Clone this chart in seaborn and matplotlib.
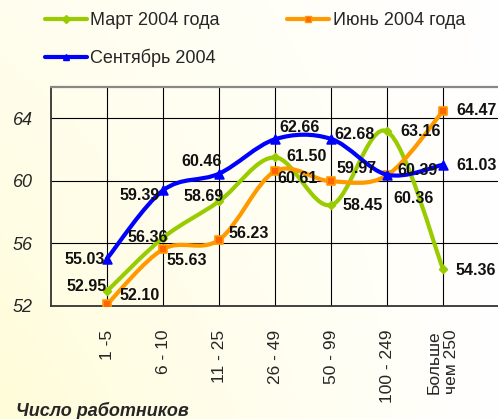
import numpy as np
import pandas as pd
import matplotlib
matplotlib.use("Agg")
import matplotlib.pyplot as plt
from matplotlib.path import Path
from matplotlib.patches import PathPatch
from matplotlib.lines import Line2D
import seaborn as sns

categories = ["1 -5", "6 - 10", "11 - 25", "26 - 49", "50 - 99", "100 - 249", "Больше\nчем 250"]
march = [52.95, 56.36, 58.69, 61.50, 58.45, 63.16, 54.36]
june = [52.10, 55.63, 56.23, 60.61, 59.97, 60.36, 64.47]
sept = [55.03, 59.39, 60.46, 62.66, 62.68, 60.39, 61.03]
series_names = ["Март 2004 года", "Июнь 2004 года", "Сентябрь 2004"]
yticks = [52, 56, 60, 64]

# label offsets in pixels (dx, dy), one list per series
off_march = [(-20, 5), (-15, 0), (-15, 5), (32, 1), (32, 0), (34, 0), (33, -1)]
off_june = [(33, 9), (24, -11), (30, 6), (23, -7), (25, 13), (26, -23), (33, 0)]
off_sept = [(-22, -1), (-23, -5), (-17, 12), (25, 12), (23, 4), (30, 4), (33, -1)]

sns.set_style("white")
plt.rcParams["font.family"] = ["Liberation Sans", "DejaVu Sans"]

x = np.arange(len(categories))
df = pd.DataFrame({
    "pos": np.tile(x, 3),
    "value": march + june + sept,
    "series": np.repeat(series_names, len(categories)),
})

styles = {
    "Март 2004 года": dict(color="#99CC00", marker="D", s=16, face="#99CC00", edge="#99CC00", offs=off_march, z=3),
    "Июнь 2004 года": dict(color="#FF9900", marker="s", s=36, face="#FF6600", edge="#FF9900", offs=off_june, z=4),
    "Сентябрь 2004": dict(color="#0000FF", marker="^", s=40, face="#0000FF", edge="#0000FF", offs=off_sept, z=5),
}


def smooth_path(xs, ys):
    # Excel-style smoothed line as cubic Bezier segments through the points
    pts = np.column_stack([xs, ys]).astype(float)
    n = len(pts)
    verts = [pts[0]]
    codes = [Path.MOVETO]
    for i in range(n - 1):
        p0 = pts[i - 1] if i > 0 else pts[i]
        p1 = pts[i]
        p2 = pts[i + 1]
        p3 = pts[i + 2] if i + 2 < n else pts[i + 1]
        verts += [p1 + (p2 - p0) / 6, p2 - (p3 - p1) / 6, p2]
        codes += [Path.CURVE4] * 3
    return Path(verts, codes)


fig = plt.figure(figsize=(4.98, 4.19), dpi=100)

# soft yellow gradient background
bg = fig.add_axes([0, 0, 1, 1], zorder=-10)
gx, gy = np.meshgrid(np.linspace(0, 1, 200), np.linspace(1, 0, 200))
t = np.clip((1 - gx) * (1 - 0.55 * gy), 0, 1)[..., None]
yellow = np.array([1.0, 0.99, 0.85])
bg.imshow(np.ones(3) * (1 - t) + yellow * t, aspect="auto", extent=[0, 1, 0, 1])
bg.axis("off")

ax = fig.add_axes([0.1024, 0.2697, 0.8976, 0.5227])
ax.set_facecolor("none")

for name in series_names:
    st = styles[name]
    sub = df[df["series"] == name]
    patch = PathPatch(smooth_path(sub["pos"], sub["value"]), facecolor="none",
                      edgecolor=st["color"], lw=3.0, zorder=st["z"], capstyle="round", joinstyle="round")
    ax.add_patch(patch)
    sns.scatterplot(data=sub, x="pos", y="value", marker=st["marker"], s=st["s"],
                    color=st["face"], edgecolor=st["edge"], linewidth=1.2, zorder=st["z"] + 0.5,
                    ax=ax, legend=False)

for name in series_names:
    st = styles[name]
    sub = df[df["series"] == name]
    for xp, v, (dx, dy) in zip(sub["pos"], sub["value"], st["offs"]):
        ax.annotate(f"{v:.2f}", (xp, v), xytext=(dx, dy), textcoords="offset pixels",
                    ha="center", va="center", fontsize=11.5, fontweight="bold",
                    color="#111111", zorder=10)

ax.set_xlim(-1, 6.98)
ax.set_ylim(52, 66)
ax.set_xticks(x)
ax.set_xticklabels(categories, rotation=90, fontsize=12.5, va="top", ha="center")
ax.set_yticks(yticks)
ax.set_yticklabels([str(v) for v in yticks], fontsize=13, style="italic")
ax.tick_params(axis="x", length=0, pad=17)
ax.tick_params(axis="y", length=0, pad=13)
ax.set_xlabel("")
ax.set_ylabel("")
ax.grid(True, color="black", lw=0.8)
ax.set_axisbelow(True)
for side in ["left", "bottom"]:
    ax.spines[side].set_color("#333333")
    ax.spines[side].set_linewidth(1.3)
ax.spines["top"].set_color("#888888")
ax.spines["top"].set_linewidth(1.6)
ax.spines["right"].set_visible(False)

handles = []
for name in [series_names[0], series_names[2], series_names[1]]:
    st = styles[name]
    handles.append(Line2D([], [], color=st["color"], lw=3.0, marker=st["marker"],
                          markersize=5 if st["marker"] != "D" else 4,
                          markerfacecolor=st["face"], markeredgecolor=st["edge"]))
fig.legend(handles, [series_names[0], series_names[2], series_names[1]], ncol=2,
           loc="upper left", bbox_to_anchor=(0.058, 1.01), frameon=False, fontsize=13,
           handlelength=2.3, handletextpad=0.2, columnspacing=3.75, labelspacing=1.1)

fig.text(16 / 498, 1 - 411 / 419, "Число работников", fontsize=13,
         fontweight="bold", style="italic", va="center", ha="left")

fig.savefig("out.png", dpi=100)
